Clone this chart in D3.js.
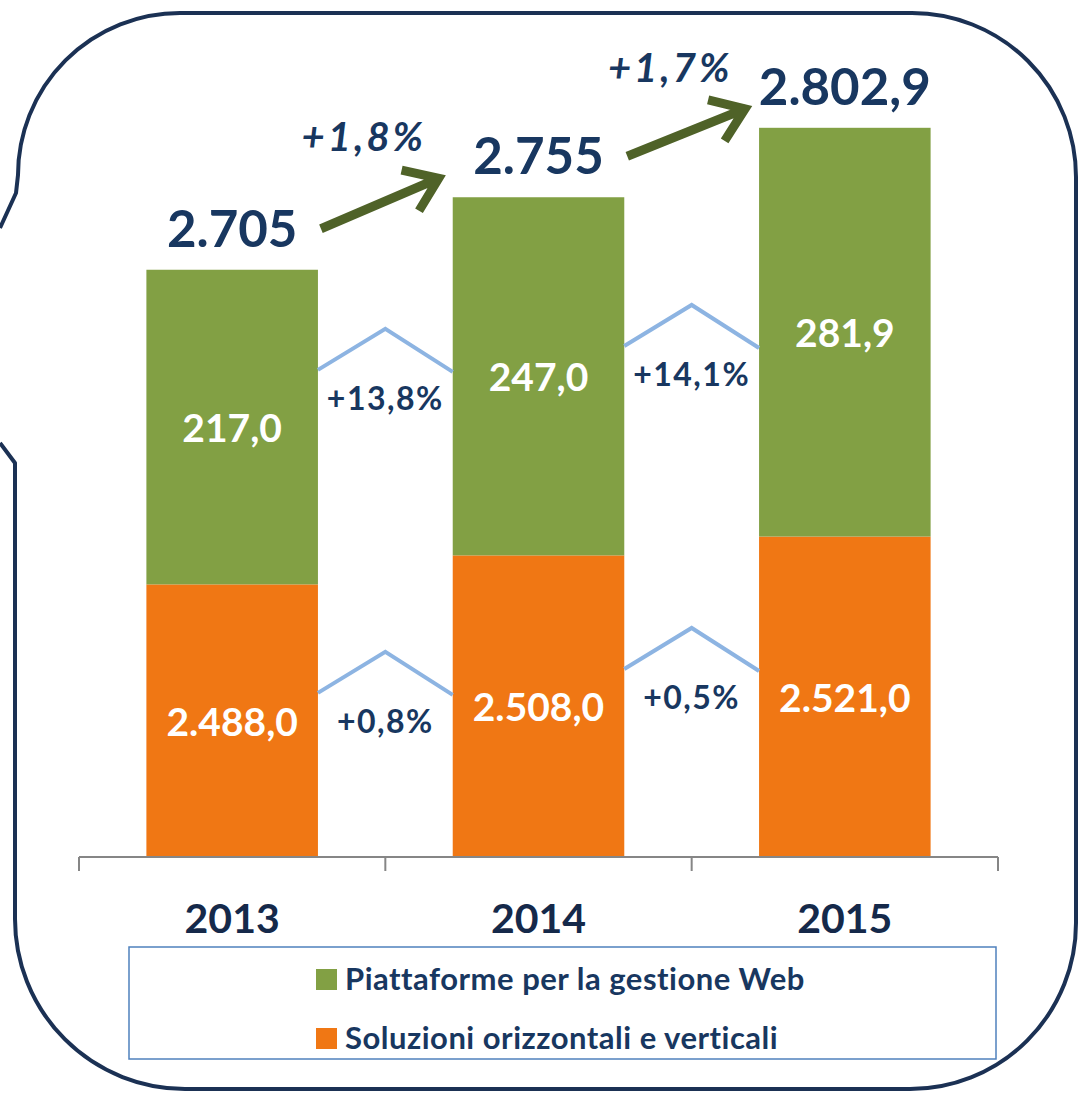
<!DOCTYPE html>
<html>
<head>
<meta charset="utf-8">
<script src="https://cdn.jsdelivr.net/npm/d3@7"></script>
<style>
  body { margin: 0; background: #fff; }
  svg { display: block; }
</style>
</head>
<body>
<div id="chart"></div>
<script>
'use strict';

// dati
var years = ["2013", "2014", "2015"];
var soluzioni = [2488.0, 2508.0, 2521.0];
var piattaforme = [217.0, 247.0, 281.9];
var totalLabels = ["2.705", "2.755", "2.802,9"];
var growthTotal = ["+1,8%", "+1,7%"];
var growthPiatt = ["+13,8%", "+14,1%"];
var growthSol = ["+0,8%", "+0,5%"];
var seriesNames = ["Piattaforme per la gestione Web", "Soluzioni orizzontali e verticali"];

var width = 1078, height = 1096;
var navy = "#183760", green = "#82a044", orange = "#f07714", arrowGreen = "#4f6228", chevron = "#8db4e2";
var font = "Lato, 'Open Sans', sans-serif";

var it = d3.formatLocale({decimal: ",", thousands: ".", grouping: [3], currency: ["", " €"]});
var fmt = it.format(",.1f");

var rows = years.map(function(y, i) {
  return {year: y, sol: soluzioni[i], piatt: piattaforme[i]};
});
var stack = d3.stack().keys(["sol", "piatt"])(rows);

var svg = d3.select("#chart").append("svg")
      .attr("width", width)
      .attr("height", height);

// cornice
svg.append("path")
    .attr("d", "M0,228 L16,193 L18,175 A162,162 0 0 1 180,13 L912,13 A164,164 0 0 1 1076,177 " +
               "L1076,923 A166,166 0 0 1 910,1089 L185,1089 A170,170 0 0 1 15,919 L15,463 L0,443")
    .attr("fill", "none")
    .attr("stroke", "#1b3154")
    .attr("stroke-width", 4)
    .attr("stroke-linejoin", "round");

// scale (asse interrotto: parte da 2300)
var x = d3.scaleBand()
      .domain(years)
      .range([79, 998])
      .paddingInner(0.44)
      .paddingOuter(0.22);

var y = d3.scaleLinear()
      .domain([2300, 2880])
      .range([857, 16])
      .clamp(true);

var colors = {sol: orange, piatt: green};

svg.selectAll("g.serie")
    .data(stack)
    .enter().append("g")
    .attr("class", "serie")
    .attr("fill", function(d) { return colors[d.key]; })
    .selectAll("rect")
    .data(function(d) { return d; })
    .enter().append("rect")
    .attr("x", function(d) { return x(d.data.year); })
    .attr("width", x.bandwidth())
    .attr("y", function(d) { return y(d[1]); })
    .attr("height", function(d) { return y(d[0]) - y(d[1]); });

// etichette valori nelle barre
svg.selectAll("g.lab")
    .data(stack)
    .enter().append("g")
    .attr("class", "lab")
    .selectAll("text")
    .data(function(d) { return d.map(function(p) { return {p: p, key: d.key}; }); })
    .enter().append("text")
    .attr("x", function(d) { return x(d.p.data.year) + x.bandwidth() / 2; })
    .attr("y", function(d) { return (y(d.p[0]) + y(d.p[1])) / 2; })
    .attr("text-anchor", "middle")
    .attr("dominant-baseline", "central")
    .style("font-family", font)
    .style("font-weight", "bold")
    .style("font-size", "39px")
    .style("fill", "#fff")
    .text(function(d) { return fmt(d.p.data[d.key]); });

// asse x
var axisG = svg.append("g").attr("transform", "translate(0," + y(2300) + ")");
axisG.append("line")
    .attr("x1", x.range()[0]).attr("x2", x.range()[1])
    .attr("stroke", "#868686").attr("stroke-width", 2);
var tickPos = [x.range()[0]].concat(years.map(function(d) { return x(d) - x.step() * x.paddingInner() / 2 + x.step(); }));
axisG.selectAll("line.tick")
    .data(tickPos)
    .enter().append("line")
    .attr("class", "tick")
    .attr("x1", function(d) { return d; }).attr("x2", function(d) { return d; })
    .attr("y1", 0).attr("y2", 14)
    .attr("stroke", "#868686").attr("stroke-width", 2);
svg.selectAll("text.year")
    .data(years)
    .enter().append("text")
    .attr("class", "year")
    .attr("x", function(d) { return x(d) + x.bandwidth() / 2; })
    .attr("y", 933)
    .attr("text-anchor", "middle")
    .style("font-family", font)
    .style("font-weight", "bold")
    .style("font-size", "41px")
    .style("fill", "#15294a")
    .text(function(d) { return d; });

// totali sopra le barre
var totalTop = stack[1].map(function(d) { return y(d[1]); });
svg.selectAll("text.total")
    .data(totalLabels)
    .enter().append("text")
    .attr("class", "total")
    .attr("x", function(d, i) { return x(years[i]) + x.bandwidth() / 2; })
    .attr("y", function(d, i) { return totalTop[i] - 23; })
    .attr("text-anchor", "middle")
    .style("font-family", font)
    .style("font-weight", "bold")
    .style("font-size", "51px")
    .style("fill", navy)
    .text(function(d) { return d; });

// frecce di crescita del totale
var arrows = growthTotal.map(function(g, i) {
  var x0 = x(years[i]) + x.bandwidth() + 3, y0 = totalTop[i] - 41;
  var x1 = x(years[i + 1]) - 14, y1 = totalTop[i + 1] - 19;
  return {x0: x0, y0: y0, x1: x1, y1: y1, label: g};
});
var arrowG = svg.selectAll("g.arrow")
      .data(arrows)
      .enter().append("g")
      .attr("class", "arrow");
arrowG.append("path")
    .attr("d", function(d) {
      var a = Math.atan2(d.y1 - d.y0, d.x1 - d.x0), L = 38, s = 0.62;
      return "M" + d.x0 + "," + d.y0 + " L" + d.x1 + "," + d.y1 +
             " M" + (d.x1 - L * Math.cos(a - s)) + "," + (d.y1 - L * Math.sin(a - s)) +
             " L" + d.x1 + "," + d.y1 +
             " L" + (d.x1 - L * Math.cos(a + s)) + "," + (d.y1 - L * Math.sin(a + s));
    })
    .attr("fill", "none")
    .attr("stroke", arrowGreen)
    .attr("stroke-width", 9)
    .attr("stroke-linejoin", "miter");
arrowG.append("text")
    .attr("x", function(d) { return (d.x0 + d.x1) / 2 - 16; })
    .attr("y", function(d) { return d.y1 - 27; })
    .attr("text-anchor", "middle")
    .style("font-family", font)
    .style("font-weight", "bold")
    .style("font-style", "italic")
    .style("font-size", "40px")
    .style("letter-spacing", "3px")
    .style("fill", navy)
    .text(function(d) { return d.label; });

// variazioni per serie (tetti azzurri)
var chevOffset = {piatt: -200, sol: 123};
function chevrons(key, labels) {
  var tops = stack[0].map(function(d) { return y(d[1]); });
  var data = labels.map(function(l, i) {
    var base = (tops[i] + tops[i + 1]) / 2 + chevOffset[key];
    return {
      xa: x(years[i]) + x.bandwidth(),
      xb: x(years[i + 1]),
      base: base,
      label: l
    };
  });
  var g = svg.selectAll("g.ch-" + key)
        .data(data)
        .enter().append("g")
        .attr("class", "ch-" + key);
  g.append("path")
      .attr("d", function(d) {
        return "M" + d.xa + "," + d.base + " L" + (d.xa + d.xb) / 2 + "," + (d.base - 41) + " L" + d.xb + "," + (d.base + 2);
      })
      .attr("fill", "none")
      .attr("stroke", chevron)
      .attr("stroke-width", 4);
  g.append("text")
      .attr("x", function(d) { return (d.xa + d.xb) / 2; })
      .attr("y", function(d) { return d.base + 40; })
      .attr("text-anchor", "middle")
      .style("font-family", font)
      .style("font-weight", "bold")
      .style("font-size", "32px")
      .style("letter-spacing", "1.5px")
      .style("fill", navy)
      .text(function(d) { return d.label; });
}
chevrons("piatt", growthPiatt);
chevrons("sol", growthSol);

// legenda
svg.append("rect")
    .attr("x", 129).attr("y", 947)
    .attr("width", 867).attr("height", 112)
    .attr("fill", "none")
    .attr("stroke", "#4f81bd")
    .attr("stroke-width", 1.5);
var legend = svg.selectAll("g.legend")
      .data(seriesNames)
      .enter().append("g")
      .attr("class", "legend")
      .attr("transform", function(d, i) { return "translate(316," + (969 + i * 59) + ")"; });
legend.append("rect")
    .attr("width", 21).attr("height", 21)
    .attr("fill", function(d, i) { return i == 0 ? green : orange; });
legend.append("text")
    .attr("x", 29)
    .attr("y", 21)
    .style("font-family", font)
    .style("font-weight", "bold")
    .style("font-size", "31px")
    .style("letter-spacing", "0.5px")
    .style("fill", navy)
    .text(function(d) { return d; });
</script>
</body>
</html>
